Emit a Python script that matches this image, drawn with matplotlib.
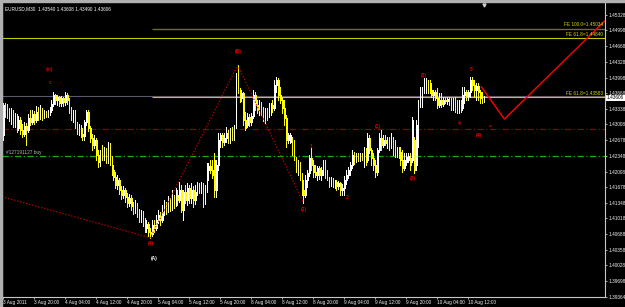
import numpy as np
import matplotlib
matplotlib.use('Agg')
import matplotlib.pyplot as plt

plt.rcParams['font.family'] = ['Liberation Sans', 'DejaVu Sans']

# EURUSD M30 bars, 3 Aug 2011 12:00 -> 10 Aug 2011 16:00
# prices are given in pips above 1.4000
opens_pips = [278, 342, 331, 327, 310, 327, 302, 319, 293, 310, 289, 281, 298, 289, 314, 306, 323, 310, 327, 317,
              331, 321, 325, 321, 327, 331, 344, 363, 352, 359, 346, 357, 348, 363, 352, 331, 321, 327, 300, 289,
              295, 281, 276, 306, 327, 293, 272, 257, 268, 236, 221, 236, 230, 243, 226, 257, 226, 204, 190, 173,
              183, 162, 152, 162, 147, 135, 145, 128, 120, 130, 113, 103, 111, 95, 82, 90, 73, 69, 88, 82,
              99, 109, 99, 116, 130, 120, 137, 126, 145, 133, 152, 141, 162, 120, 158, 141, 166, 145, 162, 141,
              158, 173, 162, 171, 141, 162, 204, 213, 204, 226, 162, 215, 268, 278, 264, 272, 283, 268, 285, 274,
              293, 405, 374, 357, 367, 310, 300, 317, 306, 319, 363, 342, 331, 344, 327, 314, 327, 317, 327, 342,
              336, 384, 395, 363, 352, 336, 314, 268, 264, 272, 247, 232, 204, 215, 187, 162, 152, 183, 198, 230,
              215, 200, 194, 209, 194, 204, 221, 200, 187, 179, 183, 173, 179, 171, 177, 162, 166, 183, 194, 204,
              215, 236, 226, 234, 228, 236, 230, 243, 226, 272, 247, 230, 215, 200, 247, 272, 257, 268, 262, 268,
              255, 272, 247, 243, 251, 243, 226, 209, 221, 226, 230, 226, 268, 215, 300, 342, 363, 374, 384, 391,
              378, 374, 363, 369, 357, 342, 352, 344, 352, 350, 355, 346, 340, 350, 336, 331, 344, 336, 363, 369,
              361, 369, 395, 384, 374, 382, 369, 357, 354]
closes_pips = [342, 327, 321, 314, 327, 302, 319, 293, 310, 289, 281, 298, 289, 314, 306, 323, 310, 327, 317, 331,
               321, 325, 321, 327, 331, 344, 363, 352, 359, 346, 357, 348, 363, 352, 331, 321, 327, 300, 289, 295,
               281, 276, 306, 327, 293, 272, 257, 268, 236, 221, 236, 230, 243, 226, 257, 226, 204, 190, 173, 183,
               162, 152, 162, 147, 135, 145, 128, 120, 130, 113, 103, 111, 95, 82, 90, 73, 69, 88, 82, 99,
               109, 99, 116, 130, 120, 137, 126, 145, 133, 152, 141, 162, 120, 158, 141, 166, 145, 162, 141, 158,
               173, 162, 171, 141, 162, 204, 213, 204, 194, 162, 215, 268, 278, 264, 272, 283, 268, 285, 274, 293,
               405, 374, 357, 367, 310, 293, 317, 306, 319, 363, 342, 331, 344, 327, 314, 327, 317, 336, 342, 336,
               384, 395, 363, 352, 336, 314, 268, 278, 278, 247, 232, 204, 215, 187, 162, 152, 183, 198, 230, 215,
               200, 194, 209, 194, 204, 221, 200, 187, 179, 183, 173, 179, 171, 177, 162, 166, 183, 194, 204, 215,
               236, 226, 234, 228, 236, 230, 243, 226, 272, 247, 230, 215, 200, 247, 272, 257, 268, 262, 268, 255,
               272, 247, 243, 251, 236, 226, 209, 226, 232, 234, 215, 310, 204, 300, 342, 363, 374, 391, 391, 378,
               374, 363, 369, 357, 342, 352, 344, 352, 350, 355, 346, 340, 350, 336, 331, 344, 336, 363, 369, 361,
               369, 395, 384, 374, 382, 369, 357, 352, 361]
highs_pips = [346, 346, 344, 336, 336, 331, 325, 323, 319, 317, 302, 306, 304, 323, 331, 331, 329, 340, 338, 342,
              336, 331, 329, 331, 338, 352, 369, 365, 363, 361, 361, 359, 369, 367, 357, 338, 331, 331, 306, 302,
              300, 293, 310, 331, 331, 298, 281, 278, 272, 247, 247, 257, 253, 251, 264, 262, 234, 215, 200, 194,
              187, 171, 171, 166, 156, 154, 152, 137, 141, 135, 122, 120, 118, 103, 99, 95, 82, 99, 99, 109,
              120, 116, 130, 141, 137, 149, 145, 162, 152, 166, 162, 179, 173, 162, 173, 177, 173, 177, 171, 173,
              179, 177, 179, 177, 173, 219, 219, 226, 226, 240, 226, 283, 283, 283, 283, 295, 289, 293, 295, 300,
              410, 426, 378, 374, 369, 327, 325, 323, 325, 374, 369, 352, 352, 348, 338, 336, 336, 346, 346, 352,
              395, 401, 399, 380, 359, 352, 321, 283, 283, 274, 268, 232, 226, 221, 198, 183, 194, 204, 236, 251,
              226, 215, 213, 213, 211, 226, 226, 204, 190, 190, 187, 183, 183, 181, 179, 175, 192, 204, 211, 221,
              247, 243, 240, 240, 240, 240, 253, 251, 283, 278, 251, 240, 226, 251, 283, 289, 278, 278, 274, 274,
              283, 274, 268, 253, 253, 253, 247, 240, 240, 240, 240, 317, 274, 310, 352, 380, 380, 399, 399, 395,
              395, 388, 374, 374, 378, 367, 367, 359, 359, 359, 359, 357, 357, 359, 352, 352, 352, 380, 380, 374,
              374, 401, 401, 395, 388, 388, 374, 369, 361]
lows_pips = [268, 317, 314, 308, 302, 295, 295, 285, 289, 281, 274, 276, 257, 285, 300, 302, 302, 306, 310, 312,
             310, 314, 317, 317, 321, 327, 340, 344, 342, 340, 340, 340, 342, 344, 325, 310, 306, 293, 281, 278,
             274, 268, 268, 300, 287, 264, 247, 251, 226, 211, 213, 226, 226, 219, 219, 215, 194, 183, 166, 164,
             154, 143, 145, 137, 126, 128, 120, 111, 113, 105, 95, 95, 86, 73, 73, 65, 61, 65, 73, 77,
             92, 88, 95, 109, 111, 116, 118, 120, 124, 128, 130, 137, 116, 99, 135, 130, 135, 135, 126, 133,
             152, 156, 156, 126, 133, 158, 183, 198, 187, 147, 147, 204, 253, 253, 257, 264, 262, 262, 268, 268,
             293, 367, 348, 350, 300, 289, 295, 298, 300, 314, 331, 325, 321, 321, 308, 304, 310, 317, 321, 327,
             331, 369, 352, 346, 325, 300, 253, 262, 262, 236, 226, 200, 194, 183, 152, 135, 147, 169, 192, 204,
             190, 190, 183, 185, 183, 194, 187, 183, 169, 171, 169, 166, 162, 164, 152, 152, 152, 175, 187, 194,
             209, 217, 221, 223, 223, 226, 211, 215, 221, 240, 215, 204, 190, 194, 243, 247, 253, 257, 251, 247,
             251, 236, 232, 232, 230, 215, 200, 204, 215, 221, 204, 221, 198, 204, 253, 338, 338, 367, 367, 367,
             367, 359, 352, 352, 336, 338, 338, 340, 346, 344, 342, 331, 331, 327, 325, 325, 327, 331, 346, 352,
             352, 359, 374, 359, 352, 352, 346, 346, 349]

time_labels = ['3 Aug 2011', '3 Aug 20:00', '4 Aug 04:00', '4 Aug 12:00', '4 Aug 20:00', '5 Aug 04:00',
               '5 Aug 12:00', '5 Aug 20:00', '8 Aug 04:00', '8 Aug 12:00', '8 Aug 20:00', '9 Aug 04:00',
               '9 Aug 12:00', '9 Aug 20:00', '10 Aug 04:00', '10 Aug 12:00']
price_ticks = [1.45328, 1.44998, 1.44668, 1.44328, 1.43998, 1.43668, 1.43338, 1.43008, 1.42678, 1.42348,
               1.42008, 1.41678, 1.41348, 1.41018, 1.40688, 1.40358, 1.40028, 1.39698, 1.39364]

bid = 1.43606
fe_levels = [1.45034, 1.44840, 1.43583]
fe_names = ['FE 100.0=1.45034', 'FE 61.8=1.44840', 'FE 61.8=1.43583']
order_level = 1.42340
order_name = '#127191127 buy'
stop_level = 1.42920

# wave zigzag (dotted) and projected path (solid)
wave_bars = [-20, 76, 121, 155]
wave_prices = [1.4170, 1.4061, 1.4426, 1.4135]
proj_bars = [246.8, 258.6, 310.5]
proj_prices = [1.4380, 1.4312, 1.4520]

wave_labels = [(24.2, 1.4416, '(iii)', '#c00000'), (24.2, 1.4390, 'c', '#e00000'),
               (121.3, 1.4456, '(B)', '#e00000'), (76.1, 1.4048, '(4)', '#e00000'),
               (78.1, 1.4018, '(A)', 'white'), (158.9, 1.4255, '1', '#e00000'),
               (155.3, 1.4120, '(2)', '#e00000'), (177.4, 1.4147, '2', '#e00000'),
               (193.3, 1.4297, '(1)', '#e00000'), (211.3, 1.4187, '(2)', '#e00000'),
               (217.0, 1.4405, '(3)', '#e00000'), (235.5, 1.4302, '4', '#e00000'),
               (241.6, 1.4416, '5', '#e00000'), (245.2, 1.4278, '(4)', '#e00000'),
               (251.4, 1.4297, '=', '#e00000')]

o = 1.4 + np.array(opens_pips) / 10000
c = 1.4 + np.array(closes_pips) / 10000
h = 1.4 + np.array(highs_pips) / 10000
l = 1.4 + np.array(lows_pips) / 10000
bars = np.arange(len(c))

W, H = 625, 307
FS = 3.4
fig = plt.figure(figsize=(W / 100, H / 100), dpi=100, facecolor='black')
ax = fig.add_axes([2 / W, 10 / H, 603 / W, 294 / H])
ax.set_facecolor('black')
ax.set_xlim(-0.5, 310.5)
ax.set_ylim(1.39357, 1.45576)

# horizontal lines
ax.axhline(bid, color='#5a5a6a', lw=0.8, zorder=1)
ax.hlines(fe_levels[0], 77, 310.5, color='#70701c', lw=1.0, zorder=1)
ax.axhline(fe_levels[1], color='#c8c800', lw=0.8, zorder=1)
ax.hlines(fe_levels[2], 77, 310.5, color='#c8c800', lw=0.8, zorder=1)
ax.axhline(stop_level, color='#8c0000', lw=0.9, ls=(0, (5, 2, 1, 2)), zorder=1)
ax.axhline(order_level, color='#10b010', lw=0.9, ls=(0, (5, 2, 1, 2)), zorder=1)

# bars
up = c > o
cols = np.where(up, '#ffffff', '#ffff00')
ax.vlines(bars, l, h, colors=cols, lw=0.72, zorder=3, antialiased=False)
ax.vlines(bars + 0.3, np.minimum(o, c), np.maximum(o, c), colors=cols, lw=0.72, zorder=3, antialiased=False)

ax.plot(wave_bars, wave_prices, color='#c80000', lw=0.9, ls=(0, (1, 1.5)), zorder=4)
ax.plot(proj_bars, proj_prices, color='#ff0000', lw=1.0, zorder=4)

for xb, yp, t, col in wave_labels:
    ax.text(xb, yp, t, color=col, fontsize=3.5, fontweight='bold', ha='center', va='center', zorder=5)

for lvl, name in zip(fe_levels, fe_names):
    ax.text(309.5, lvl + 0.00025, name, color='#d8d800', fontsize=FS, ha='right', va='bottom', zorder=5)
ax.text(1.5, order_level + 0.00025, order_name, color='#b8b8b8', fontsize=FS, ha='left', va='bottom')

ax.text(0.005, 0.99, 'EURUSD,M30  1.43540 1.43608 1.43490 1.43606', transform=ax.transAxes,
        color='white', fontsize=FS, ha='left', va='top')
ax.plot([248], [1.4553], marker='v', color='#c8c8c8', ms=2.2, clip_on=False)

# axes
ax.spines['top'].set_visible(False)
for s in ['right', 'bottom', 'left']:
    ax.spines[s].set_color('#c8c8c8')
    ax.spines[s].set_linewidth(0.8)
ax.yaxis.tick_right()
ax.set_yticks(price_ticks)
ax.set_yticklabels(['%.5f' % p for p in price_ticks])
ax.set_xticks(np.arange(len(time_labels)) * 16)
ax.set_xticklabels(time_labels, ha='left')
ax.tick_params(axis='both', colors='#c8c8c8', labelcolor='#f0f0f0', labelsize=FS, length=1.6, width=0.6, pad=0.8)

ax.text(1.003, (bid - 1.39357) / (1.45576 - 1.39357) - 0.006, '%.5f' % bid, transform=ax.transAxes,
        fontsize=FS, color='black', ha='left', va='center', zorder=6,
        bbox=dict(boxstyle='square,pad=0.12', fc='white', ec='none'))

# window border
fig.patches.append(plt.Rectangle((0, 0), 2 / W, 1, transform=fig.transFigure, color='#b0b0b0'))
fig.patches.append(plt.Rectangle((0, 1 - 2 / H), 1, 2 / H, transform=fig.transFigure, color='#b0b0b0'))

plt.savefig('out.png', dpi=100, facecolor='black')
